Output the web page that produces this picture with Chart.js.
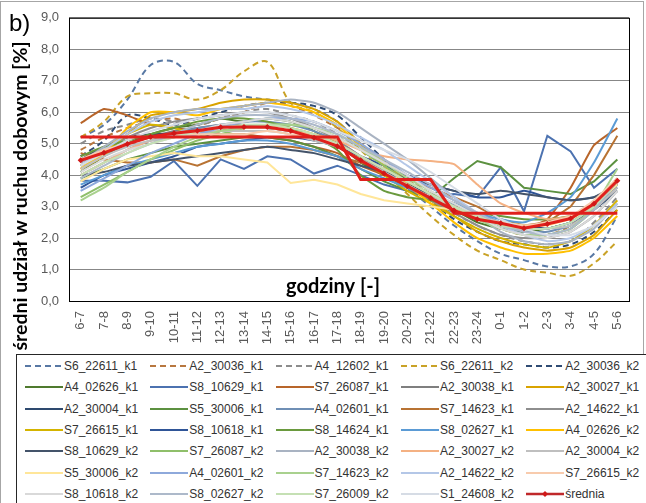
<!DOCTYPE html>
<html>
<head>
<meta charset="utf-8">
<script src="https://cdn.jsdelivr.net/npm/chart.js@4.4.1/dist/chart.umd.min.js"></script>
<style>
  html, body { margin: 0; padding: 0; background: #fff; }
  #wrap { position: relative; width: 646px; height: 503px; overflow: hidden; font-family: "Liberation Sans", Arial, sans-serif; }
  #frame { position: absolute; left: 0; top: 1px; width: 644px; height: 520px; border: 1px solid #a6a6a6; box-sizing: border-box; }
  #chart { position: absolute; left: 0; top: 0; }
  #legend { position: absolute; left: 16px; top: 354px; width: 640px; height: 160px; border: 1px solid #262626; background: #fff; box-sizing: border-box; }
  .item { position: absolute; height: 16px; display: flex; align-items: center; font-size: 12px; color: #333; white-space: nowrap; }
  .item svg { margin-right: 1px; }
</style>
</head>
<body>
<div id="wrap">
  <div id="frame"></div>
  <canvas id="chart" width="646" height="503"></canvas>
  <div id="legend"></div>
</div>
<script>
const hours = ["6-7", "7-8", "8-9", "9-10", "10-11", "11-12", "12-13", "13-14", "14-15", "15-16", "16-17", "17-18",
  "18-19", "19-20", "20-21", "21-22", "22-23", "23-24", "0-1", "1-2", "2-3", "3-4", "4-5", "5-6"];

// values, share of daily traffic [%]
const S6_22611_k1 = [5.2, 5.6, 6.4, 7.5, 7.6, 6.9, 6.7, 6.5, 6.4, 6.3, 6.1, 5.7, 5.0, 4.3, 3.6, 3.0, 2.4, 1.9, 1.5, 1.3, 1.1, 1.1, 1.5, 2.7];
const A2_30036_k1 = [4.8, 5.2, 5.5, 5.7, 5.8, 5.6, 5.8, 6.0, 6.3, 6.2, 5.9, 5.5, 5.0, 4.5, 3.9, 3.4, 3.0, 2.6, 2.3, 2.1, 2.1, 2.4, 3.0, 3.7];
const A4_12602_k1 = [5.0, 5.4, 5.6, 5.8, 5.7, 5.6, 5.8, 6.0, 6.1, 5.9, 5.7, 5.3, 4.8, 4.3, 3.8, 3.3, 2.8, 2.4, 2.1, 1.9, 1.8, 1.9, 2.5, 3.3];
const S6_22611_k2 = [5.2, 5.7, 6.5, 6.6, 6.6, 6.4, 6.7, 7.3, 7.6, 6.3, 6.0, 5.5, 4.8, 4.1, 3.4, 2.7, 2.1, 1.6, 1.3, 1.0, 0.9, 0.8, 1.2, 1.9];
const A2_30036_k2 = [4.6, 5.1, 5.9, 5.8, 5.6, 5.8, 6.0, 6.2, 6.3, 6.3, 6.2, 5.9, 5.2, 4.5, 3.8, 3.2, 2.6, 2.2, 1.9, 1.8, 1.7, 1.8, 2.2, 2.9];
const A4_02626_k1 = [4.1, 4.6, 5.0, 5.3, 5.5, 5.6, 5.8, 5.7, 5.8, 5.7, 5.4, 5.0, 4.4, 4.0, 3.6, 3.2, 2.9, 2.5, 2.3, 2.2, 2.3, 2.5, 3.0, 3.9];
const S8_10629_k1 = [3.82, 3.82, 3.77, 3.95, 4.45, 3.66, 4.5, 4.2, 4.6, 4.5, 4.05, 4.3, 4.0, 3.7, 3.5, 3.3, 3.4, 3.3, 4.25, 2.85, 5.25, 4.75, 3.6, 4.2];
const S7_26087_k1 = [5.65, 6.1, 5.9, 5.6, 5.5, 5.4, 5.3, 5.3, 5.2, 5.1, 4.9, 4.7, 4.3, 4.0, 3.7, 3.4, 3.1, 2.7, 2.4, 2.3, 2.6, 3.6, 4.95, 5.5];
const A2_30038_k1 = [4.3, 4.7, 5.0, 5.2, 5.4, 5.5, 5.6, 5.6, 5.5, 5.4, 5.2, 5.0, 4.6, 4.2, 3.8, 3.4, 3.0, 2.7, 2.4, 2.3, 2.3, 2.5, 3.0, 3.8];
const A2_30027_k1 = [4.2, 4.6, 5.3, 5.9, 6.0, 6.1, 6.3, 6.4, 6.4, 6.3, 6.1, 5.7, 5.0, 4.4, 3.8, 3.2, 2.7, 2.2, 1.9, 1.7, 1.6, 1.7, 2.1, 2.9];
const A2_30004_k1 = [4.5, 4.9, 5.2, 5.3, 5.3, 5.2, 5.4, 5.5, 5.5, 5.4, 5.2, 4.9, 4.5, 4.1, 3.7, 3.4, 3.1, 2.8, 2.5, 2.4, 2.3, 2.5, 2.9, 3.5];
const S5_30006_k1 = [3.9, 4.2, 4.5, 4.7, 4.9, 5.0, 5.1, 5.2, 5.2, 5.1, 4.9, 4.6, 4.2, 3.8, 3.5, 3.3, 3.9, 4.45, 4.25, 3.6, 3.5, 3.4, 3.8, 4.5];
const A4_02601_k1 = [4.0, 4.4, 4.8, 5.1, 5.3, 5.5, 5.6, 5.7, 5.7, 5.6, 5.4, 5.1, 4.6, 4.2, 3.8, 3.4, 3.0, 2.7, 2.4, 2.2, 2.2, 2.4, 2.9, 3.7];
const S7_14623_k1 = [4.7, 4.5, 4.4, 4.4, 4.5, 4.3, 4.6, 4.8, 4.9, 4.9, 4.8, 4.6, 4.4, 4.2, 3.9, 3.6, 3.3, 3.0, 2.6, 2.4, 2.5, 3.0, 4.0, 5.25];
const A2_14622_k1 = [4.4, 4.8, 5.2, 5.5, 5.7, 5.8, 5.9, 6.0, 6.0, 5.8, 5.5, 5.1, 4.6, 4.1, 3.6, 3.2, 2.8, 2.4, 2.1, 2.0, 2.0, 2.2, 2.7, 3.5];
const S7_26615_k1 = [4.3, 4.7, 5.3, 5.6, 5.5, 5.3, 5.4, 5.5, 5.6, 5.5, 5.3, 5.0, 4.5, 4.0, 3.5, 3.1, 2.7, 2.3, 2.0, 1.8, 1.7, 1.9, 2.4, 3.2];
const S8_10618_k1 = [3.6, 4.0, 4.2, 4.4, 4.6, 4.9, 5.0, 5.1, 5.2, 5.2, 5.1, 4.9, 4.6, 4.3, 4.0, 3.7, 3.5, 3.3, 3.3, 3.5, 3.3, 3.2, 3.3, 3.6];
const S8_14624_k1 = [4.6, 4.9, 5.1, 5.3, 5.5, 5.7, 5.8, 5.8, 5.7, 5.5, 5.2, 4.8, 4.0, 3.5, 3.3, 3.2, 3.0, 2.8, 2.7, 2.6, 2.6, 2.7, 3.1, 3.8];
const S8_02627_k1 = [3.7, 4.0, 4.3, 4.5, 4.7, 4.9, 5.0, 5.1, 5.1, 5.0, 4.8, 4.6, 4.2, 3.9, 3.6, 3.3, 3.1, 2.8, 2.6, 2.5, 2.8, 3.3, 4.4, 5.8];
const A4_02626_k2 = [4.2, 4.7, 5.5, 6.0, 6.0, 5.9, 6.1, 6.2, 6.3, 6.2, 6.0, 5.6, 4.9, 4.3, 3.7, 3.1, 2.5, 2.0, 1.7, 1.5, 1.5, 1.6, 2.0, 2.7];
const S8_10629_k2 = [4.0, 4.1, 4.3, 4.4, 4.5, 4.6, 4.7, 4.8, 4.9, 4.8, 4.7, 4.5, 4.3, 4.1, 3.9, 3.7, 3.5, 3.4, 3.5, 3.4, 3.3, 3.2, 3.3, 3.7];
const S7_26087_k2 = [3.3, 3.7, 4.1, 4.5, 4.8, 5.1, 5.3, 5.5, 5.6, 5.6, 5.5, 5.2, 4.8, 4.3, 3.8, 3.4, 3.0, 2.6, 2.3, 2.1, 2.1, 2.3, 2.9, 3.9];
const A2_30038_k2 = [4.4, 4.9, 5.4, 5.8, 6.0, 6.1, 6.1, 6.2, 6.3, 6.4, 6.3, 6.0, 5.5, 5.0, 4.5, 3.9, 3.3, 2.7, 2.2, 1.9, 1.8, 1.9, 2.3, 3.1];
const A2_30027_k2 = [4.0, 4.4, 4.8, 5.1, 5.2, 5.3, 5.4, 5.5, 5.5, 5.4, 5.3, 5.1, 4.8, 4.6, 4.5, 4.45, 4.35, 3.7, 3.1, 2.8, 2.6, 2.7, 3.1, 3.8];
const A2_30004_k2 = [4.2, 4.6, 4.9, 5.1, 5.2, 5.3, 5.4, 5.4, 5.4, 5.3, 5.1, 4.9, 4.5, 4.1, 3.7, 3.3, 3.0, 2.7, 2.4, 2.3, 2.3, 2.4, 2.9, 3.6];
const S5_30006_k2 = [3.8, 4.2, 4.5, 4.6, 4.7, 4.6, 4.6, 4.5, 4.4, 3.75, 3.85, 3.7, 3.4, 3.2, 3.1, 3.0, 2.9, 2.7, 2.5, 2.4, 2.4, 2.6, 3.0, 3.7];
const A4_02601_k2 = [3.5, 3.9, 4.3, 4.7, 5.0, 5.3, 5.5, 5.7, 5.8, 5.8, 5.7, 5.4, 5.0, 4.5, 4.0, 3.6, 3.2, 2.8, 2.5, 2.3, 2.3, 2.5, 3.0, 3.8];
const S7_14623_k2 = [3.2, 3.6, 4.1, 4.5, 4.9, 5.2, 5.4, 5.5, 5.6, 5.6, 5.5, 5.3, 4.9, 4.4, 3.9, 3.5, 3.0, 2.6, 2.3, 2.1, 2.1, 2.3, 3.0, 4.2];
const A2_14622_k2 = [4.3, 4.8, 5.3, 5.7, 5.9, 6.0, 6.1, 6.1, 6.2, 6.1, 5.9, 5.6, 5.2, 4.8, 4.3, 3.8, 3.3, 2.8, 2.4, 2.1, 1.9, 2.0, 2.4, 3.1];
const S7_26615_k2 = [4.5, 4.8, 5.0, 5.2, 5.3, 5.3, 5.3, 5.3, 5.4, 5.3, 5.2, 5.0, 4.6, 4.2, 3.8, 3.4, 3.0, 2.7, 2.5, 2.4, 2.5, 2.7, 3.2, 3.9];
const S8_10618_k2 = [4.1, 4.5, 4.8, 5.0, 5.2, 5.4, 5.6, 5.7, 5.8, 5.7, 5.5, 5.2, 4.8, 4.4, 4.0, 3.5, 3.1, 2.7, 2.3, 2.1, 2.0, 2.2, 2.7, 3.5];
const S8_02627_k2 = [3.9, 4.3, 4.7, 5.0, 5.3, 5.6, 5.8, 5.9, 5.9, 5.8, 5.6, 5.3, 4.9, 4.5, 4.1, 3.7, 3.2, 2.8, 2.4, 2.2, 2.1, 2.3, 2.9, 3.8];
const S7_26009_k2 = [4.0, 4.4, 4.7, 5.0, 5.2, 5.4, 5.5, 5.6, 5.6, 5.5, 5.3, 5.0, 4.6, 4.2, 3.8, 3.4, 3.0, 2.7, 2.4, 2.3, 2.3, 2.5, 3.0, 3.8];
const S1_24608_k2 = [4.3, 4.7, 5.1, 5.4, 5.6, 5.8, 5.9, 6.0, 6.0, 5.9, 5.7, 5.4, 5.1, 4.8, 4.5, 4.1, 3.6, 3.1, 2.6, 2.3, 2.1, 2.1, 2.4, 3.0];
const srednia = [4.47, 4.71, 4.99, 5.22, 5.33, 5.41, 5.52, 5.53, 5.53, 5.41, 5.19, 4.92, 4.47, 4.05, 3.65, 3.27, 2.88, 2.6, 2.47, 2.31, 2.45, 2.62, 3.09, 3.82];
// period averages (day / evening / night), no legend entry
const periodAvg = [5.21, 5.21, 5.21, 5.21, 5.21, 5.21, 5.21, 5.21, 5.21, 5.21, 5.21, 5.21,
  3.86, 3.86, 3.86, 3.86, 2.79, 2.79, 2.79, 2.79, 2.79, 2.79, 2.79, 2.79];

const seriesNames = ["S6_22611_k1", "A2_30036_k1", "A4_12602_k1", "S6_22611_k2", "A2_30036_k2",
  "A4_02626_k1", "S8_10629_k1", "S7_26087_k1", "A2_30038_k1", "A2_30027_k1",
  "A2_30004_k1", "S5_30006_k1", "A4_02601_k1", "S7_14623_k1", "A2_14622_k1",
  "S7_26615_k1", "S8_10618_k1", "S8_14624_k1", "S8_02627_k1", "A4_02626_k2",
  "S8_10629_k2", "S7_26087_k2", "A2_30038_k2", "A2_30027_k2", "A2_30004_k2",
  "S5_30006_k2", "A4_02601_k2", "S7_14623_k2", "A2_14622_k2", "S7_26615_k2",
  "S8_10618_k2", "S8_02627_k2", "S7_26009_k2", "S1_24608_k2"];
const seriesValues = [S6_22611_k1, A2_30036_k1, A4_12602_k1, S6_22611_k2, A2_30036_k2,
  A4_02626_k1, S8_10629_k1, S7_26087_k1, A2_30038_k1, A2_30027_k1,
  A2_30004_k1, S5_30006_k1, A4_02601_k1, S7_14623_k1, A2_14622_k1,
  S7_26615_k1, S8_10618_k1, S8_14624_k1, S8_02627_k1, A4_02626_k2,
  S8_10629_k2, S7_26087_k2, A2_30038_k2, A2_30027_k2, A2_30004_k2,
  S5_30006_k2, A4_02601_k2, S7_14623_k2, A2_14622_k2, S7_26615_k2,
  S8_10618_k2, S8_02627_k2, S7_26009_k2, S1_24608_k2];
const seriesColors = ["#5878a4", "#b8773f", "#8c8c8c", "#c9a227", "#2f4b73",
  "#4f7a2e", "#4c72b0", "#b8652a", "#7f7f7f", "#d9a300",
  "#2e4a6f", "#5c9140", "#6f8fb5", "#b87333", "#8e8e8e",
  "#d4b400", "#2f5597", "#6a9a3e", "#5b9bd5", "#ffc000",
  "#44546a", "#8fbf6a", "#a9b3c2", "#f4b183", "#bfbfbf",
  "#ffe699", "#8ea9db", "#a9d18e", "#b4c7e7", "#f8cbad",
  "#d9d9d9", "#adb9ca", "#c5e0b4", "#d6dce5"];
const dashedSeries = ["S6_22611_k1", "A2_30036_k1", "A4_12602_k1", "S6_22611_k2", "A2_30036_k2"];
const spikySeries = ["S8_10629_k1", "S5_30006_k1", "S5_30006_k2", "S7_14623_k1"];
const meanColor = "#e0201c";
const markerColor = "#d01818";
const yTicks = [0, 1, 2, 3, 4, 5, 6, 7, 8, 9];

const fontFamily = '"Liberation Sans", Arial, sans-serif';
const total = seriesNames.length + 2;

const datasets = seriesNames.map((name, i) => {
  const dashed = dashedSeries.includes(name);
  return {
    label: name,
    data: seriesValues[i],
    borderColor: seriesColors[i],
    backgroundColor: seriesColors[i],
    borderWidth: 2,
    borderDash: dashed ? [6, 4] : [],
    pointRadius: 0,
    tension: spikySeries.includes(name) ? 0 : dashed ? 0.35 : 0.15,
    order: total - i,
  };
});
datasets.push({
  label: "przedziały",
  data: periodAvg,
  borderColor: meanColor,
  borderWidth: 3,
  pointRadius: 0,
  tension: 0,
  order: 1,
});
datasets.push({
  label: "średnia",
  data: srednia,
  borderColor: meanColor,
  backgroundColor: markerColor,
  borderWidth: 3,
  pointStyle: "rectRot",
  pointRadius: 3,
  pointBorderWidth: 0,
  pointBorderColor: markerColor,
  tension: 0,
  order: 0,
});

const decor = {
  id: "decor",
  beforeDatasetsDraw(chart) {
    const { ctx, chartArea: a } = chart;
    ctx.save();
    ctx.strokeStyle = "#000";
    ctx.lineWidth = 1;
    ctx.strokeRect(a.left + 0.5, a.top + 0.5, a.right - a.left, a.bottom - a.top);
    ctx.restore();
  },
  afterDatasetsDraw(chart) {
    const { ctx } = chart;
    ctx.save();
    ctx.fillStyle = "#000";
    ctx.font = "bold 20px Lato, " + fontFamily;
    ctx.textAlign = "center";
    ctx.textBaseline = "alphabetic";
    ctx.fillText("godziny [-]", 333, 293);
    ctx.restore();
  },
  afterDraw(chart) {
    const { ctx } = chart;
    ctx.save();
    ctx.fillStyle = "#000";
    ctx.font = "bold 19.5px Lato, " + fontFamily;
    ctx.translate(27, 196);
    ctx.rotate(-Math.PI / 2);
    ctx.textAlign = "center";
    ctx.textBaseline = "alphabetic";
    ctx.fillText("średni udział w ruchu dobowym [%]", 0, 0);
    ctx.restore();
    ctx.save();
    ctx.fillStyle = "#000";
    ctx.font = "24px " + fontFamily;
    ctx.textBaseline = "alphabetic";
    ctx.fillText("b)", 9, 31);
    ctx.restore();
  },
};

const chart = new Chart(document.getElementById("chart"), {
  type: "line",
  data: { labels: hours, datasets },
  options: {
    responsive: false,
    animation: false,
    layout: { padding: { top: 15, right: 17, bottom: 148, left: 0 } },
    plugins: { legend: { display: false }, tooltip: { enabled: false } },
    scales: {
      x: {
        offset: true,
        grid: { display: false, drawTicks: false },
        border: { display: false },
        ticks: {
          autoSkip: false, maxRotation: 90, minRotation: 90, padding: 10,
          color: "#595959", font: { size: 13, family: fontFamily },
        },
        afterFit(scale) { scale.height = 54; },
      },
      y: {
        min: 0,
        max: 9,
        afterBuildTicks(scale) { scale.ticks = yTicks.map((v) => ({ value: v })); },
        grid: { color: "#878787", drawTicks: false },
        border: { display: false },
        ticks: {
          padding: 10, color: "#595959", font: { size: 13, family: fontFamily },
          callback: (v) => v.toFixed(1).replace(".", ","),
        },
        afterFit(scale) { scale.width = 69; },
      },
    },
  },
  plugins: [decor],
});

// legend: 5 columns, same order as the series
function renderLegend() {
  const box = document.getElementById("legend");
  const items = seriesNames.map((name, i) => ({ name, color: seriesColors[i], dashed: dashedSeries.includes(name), mean: false }));
  items.push({ name: "średnia", color: "#c0282a", dashed: false, mean: true });
  box.innerHTML = items.map((it, i) => {
    const col = i % 5;
    const row = Math.floor(i / 5);
    const left = 8 + col * 125.3;
    const top = 3 + row * 21.3;
    const dash = it.dashed ? 'stroke-dasharray="6 4"' : "";
    const marker = it.mean ? `<path d="M19 1 L22 4 L19 7 L16 4 Z" fill="${markerColor}"/>` : "";
    return `<div class="item" style="left:${left}px;top:${top}px">
      <svg width="38" height="8"><line x1="0" y1="4" x2="38" y2="4" stroke="${it.color}" stroke-width="${it.mean ? 2.5 : 2}" ${dash}/>${marker}</svg>
      <span>${it.name}</span></div>`;
  }).join("");
}
renderLegend();
</script>
</body>
</html>
